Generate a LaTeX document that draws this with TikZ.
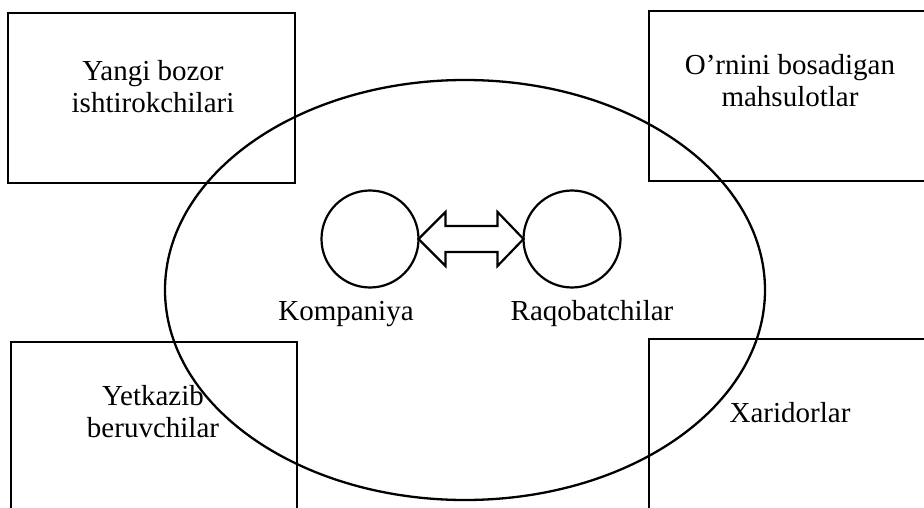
\documentclass[tikz,border=0pt]{standalone}
\usepackage{fontspec}
\setmainfont{Liberation Serif}
\usetikzlibrary{shapes.geometric,calc}
\begin{document}
\begin{tikzpicture}[x=1pt,y=-1pt,
  box/.style={draw, line width=2.6pt, rectangle, inner sep=0pt, outer sep=0pt},
  lbl/.style={font=\fontsize{29}{32}\selectfont, align=center, inner sep=0pt},
  ring/.style={draw, line width=2.2pt, circle, inner sep=0pt, outer sep=0pt, minimum size=97pt},
  env/.style={draw, line width=2.3pt, ellipse, inner sep=0pt, outer sep=0pt},
  darrow/.style={draw, line width=2.2pt, line join=miter}
]
\path[use as bounding box] (0,0) rectangle (924,508);
\clip (0,0) rectangle (924,508);
% boxes
\node[box, minimum width=287pt, minimum height=170pt] (tl) at (151.5,98) {};
\node[box, minimum width=291pt, minimum height=170pt] (tr) at (794.5,96) {};
\node[box, minimum width=286pt, minimum height=188pt] (bl) at (154,436) {};
\node[box, minimum width=291pt, minimum height=191pt] (br) at (794.5,434.5) {};
% labels
\node[lbl] (tlt) at (153,87) {Yangi bozor\\ishtirokchilari};
\node[lbl] (trt) at (790,81) {O’rnini bosadigan\\mahsulotlar};
\node[lbl] (blt) at (153,412) {Yetkazib\\beruvchilar};
\node[lbl, anchor=base] (brt) at (790,422) {Xaridorlar};
% big ellipse
\node[env, minimum width=600pt, minimum height=420pt] (market) at (465,290) {};
% circles
\node[ring] (kc) at (370,239) {};
\node[ring] (rc) at (572,239) {};
\node[lbl, anchor=base] (kt) at (346,320) {Kompaniya};
\node[lbl, anchor=base] (rt) at (592,320) {Raqobatchilar};
% double arrow
\draw[darrow] (kc.east) -- ($(kc.east)+(27,-27)$) -- ($(kc.east)+(27,-13)$)
  -- ($(rc.west)+(-26,-13)$) -- ($(rc.west)+(-26,-27)$) -- (rc.west)
  -- ($(rc.west)+(-26,27)$) -- ($(rc.west)+(-26,13)$)
  -- ($(kc.east)+(27,13)$) -- ($(kc.east)+(27,27)$) -- cycle;
\end{tikzpicture}
\end{document}
